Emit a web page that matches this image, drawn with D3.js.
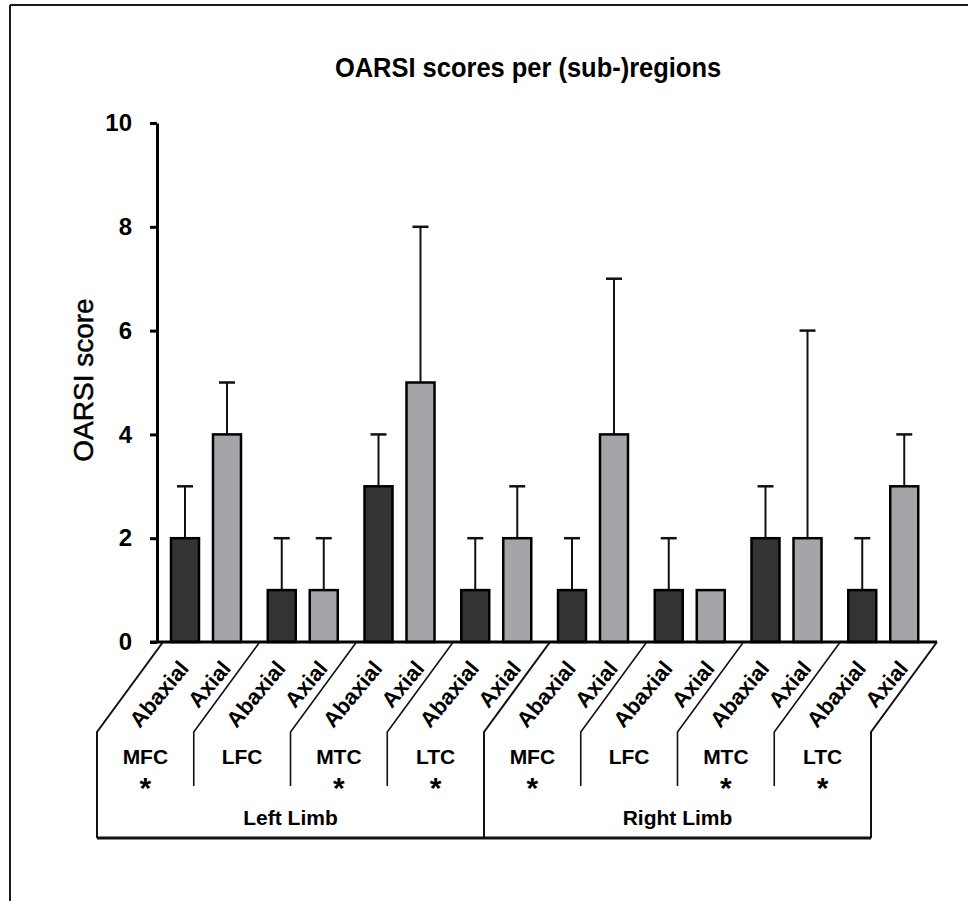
<!DOCTYPE html>
<html>
<head>
<meta charset="utf-8">
<script src="https://d3js.org/d3.v7.min.js"></script>
<style>
  body { margin: 0; background: #fff; }
  text { font-family: "Liberation Sans", Arial, sans-serif; fill: #000; }
</style>
</head>
<body>
<div id="chart"></div>
<script>
// chart data
var limbs = ["Left Limb", "Right Limb"];
var regions = ["MFC", "LFC", "MTC", "LTC"];
var sides = ["Abaxial", "Axial"];
// one value per limb/region group, left limb first
var abaxialScores = [2, 1, 3, 1, 1, 1, 2, 1];
var abaxialErrors = [1, 1, 1, 1, 1, 1, 1, 1];
var axialScores = [4, 1, 5, 2, 4, 1, 2, 3];
var axialErrors = [1, 1, 3, 1, 3, 0, 4, 1];
var significant = [true, false, true, true, true, false, true, true];
var yTicks = [0, 2, 4, 6, 8, 10];

// svg params
var svgWidth = 969;
var svgHeight = 901;
var chartTop = 123;
var chartBottom = 642;
var chartLeft = 163;
var chartRight = 937;
var axisX = 157;
var slant = 66;        // horizontal shift of the category separators
var level1Y = 732;     // where separators turn vertical
var level2Y = 786;     // end of the region separators
var boxBottom = 838;   // bottom of the limb boxes

var darkFill = "#333333";
var lightFill = "#a4a4a9";

var svg = d3.select("#chart")
    .append("svg")
    .attr("width", svgWidth)
    .attr("height", svgHeight);

// frame lines (top and left)
svg.append("line")
    .attr("x1", 10).attr("y1", 5).attr("x2", 968).attr("y2", 5)
    .attr("stroke", "#1a1a1a").attr("stroke-width", 2);
svg.append("line")
    .attr("x1", 10).attr("y1", 5).attr("x2", 10).attr("y2", svgHeight)
    .attr("stroke", "#1a1a1a").attr("stroke-width", 2);

// build group table
var groups = [];
limbs.forEach(function(limb, li) {
    regions.forEach(function(region, ri) {
        var i = li * regions.length + ri;
        groups.push({
            id: limb + " " + region,
            limb: limb,
            region: region,
            star: significant[i],
            bars: [
                { side: sides[0], value: abaxialScores[i], err: abaxialErrors[i], fill: darkFill },
                { side: sides[1], value: axialScores[i], err: axialErrors[i], fill: lightFill }
            ]
        });
    });
});

// scales
var xScale = d3.scaleBand()
    .domain(groups.map(d => d.id))
    .range([chartLeft, chartRight])
    .padding(0);
var step = xScale.step();
var xInner = d3.scaleBand()
    .domain(sides)
    .range([8, 78])
    .paddingInner(1 / 3)
    .paddingOuter(0);
var yScale = d3.scaleLinear()
    .domain([0, 10])
    .range([chartBottom, chartTop]);

// title (slightly condensed look)
svg.append("text")
    .attr("transform", "translate(528, 77) scale(0.91, 1)")
    .attr("text-anchor", "middle")
    .attr("font-size", "28px")
    .attr("font-weight", "bold")
    .text("OARSI scores per (sub-)regions");

// y axis title
svg.append("text")
    .attr("transform", "translate(93, 380) rotate(-90)")
    .attr("text-anchor", "middle")
    .attr("font-size", "28px")
    .attr("stroke", "#000")
    .attr("stroke-width", 0.5)
    .text("OARSI score");

// bars and error bars
var groupSel = svg.selectAll(".group")
    .data(groups)
    .enter()
    .append("g")
    .attr("class", "group")
    .attr("transform", d => `translate(${xScale(d.id)}, 0)`);

var barSel = groupSel.selectAll(".bar")
    .data(d => d.bars)
    .enter()
    .append("g")
    .attr("class", "bar");

barSel.filter(d => d.err > 0)
    .append("line")
    .attr("x1", d => xInner(d.side) + xInner.bandwidth() / 2)
    .attr("x2", d => xInner(d.side) + xInner.bandwidth() / 2)
    .attr("y1", d => yScale(d.value))
    .attr("y2", d => yScale(d.value + d.err))
    .attr("stroke", "#111")
    .attr("stroke-width", 2);

barSel.filter(d => d.err > 0)
    .append("line")
    .attr("x1", d => xInner(d.side) + xInner.bandwidth() / 2 - 8)
    .attr("x2", d => xInner(d.side) + xInner.bandwidth() / 2 + 8)
    .attr("y1", d => yScale(d.value + d.err))
    .attr("y2", d => yScale(d.value + d.err))
    .attr("stroke", "#111")
    .attr("stroke-width", 2.5);

barSel.append("rect")
    .attr("x", d => xInner(d.side))
    .attr("y", d => yScale(d.value))
    .attr("width", xInner.bandwidth())
    .attr("height", d => yScale(0) - yScale(d.value))
    .attr("fill", d => d.fill)
    .attr("stroke", "#000")
    .attr("stroke-width", 2.5);

// rotated side labels
barSel.append("text")
    .attr("transform", d => `translate(${xInner(d.side) + xInner.bandwidth() / 2 + 5}, 669) rotate(-50)`)
    .attr("text-anchor", "end")
    .attr("font-size", "22px")
    .attr("font-weight", "bold")
    .text(d => d.side);

// y axis
var leftAxis = d3.axisLeft(yScale)
    .tickValues(yTicks)
    .tickSize(7)
    .tickSizeOuter(0)
    .tickPadding(18)
    .tickFormat(d3.format("d"));

var yAxisG = svg.append("g")
    .attr("transform", `translate(${axisX}, 0)`)
    .call(leftAxis);
yAxisG.select(".domain").attr("stroke", "#000").attr("stroke-width", 3);
yAxisG.selectAll(".tick line").attr("stroke", "#000").attr("stroke-width", 3);
yAxisG.selectAll(".tick text")
    .attr("font-size", "24px")
    .attr("font-weight", "bold")
    .attr("font-family", "Liberation Sans, Arial, sans-serif")
    .attr("fill", "#000");

// baseline
svg.append("line")
    .attr("x1", axisX - 7)
    .attr("x2", chartRight)
    .attr("y1", yScale(0))
    .attr("y2", yScale(0))
    .attr("stroke", "#000")
    .attr("stroke-width", 3);

// category separators
var bounds = groups.map(d => xScale(d.id)).concat([chartRight]);
bounds.forEach(function(b, i) {
    var limbEdge = i % regions.length === 0;
    svg.append("path")
        .attr("d", `M${b},${yScale(0)} L${b - slant},${level1Y} L${b - slant},${limbEdge ? boxBottom : level2Y}`)
        .attr("fill", "none")
        .attr("stroke", "#111")
        .attr("stroke-width", limbEdge ? 2 : 1.6);
});

// bottom of limb boxes
svg.append("line")
    .attr("x1", chartLeft - slant)
    .attr("x2", chartRight - slant)
    .attr("y1", boxBottom)
    .attr("y2", boxBottom)
    .attr("stroke", "#111")
    .attr("stroke-width", 3);

// region labels and significance stars
groupSel.append("text")
    .attr("x", step / 2 - slant)
    .attr("y", 764)
    .attr("text-anchor", "middle")
    .attr("font-size", "21px")
    .attr("font-weight", "bold")
    .text(d => d.region);

groupSel.filter(d => d.star)
    .append("text")
    .attr("x", step / 2 - slant)
    .attr("y", 798)
    .attr("text-anchor", "middle")
    .attr("font-size", "30px")
    .attr("font-weight", "bold")
    .text("*");

// limb labels
limbs.forEach(function(limb, li) {
    var x0 = bounds[li * regions.length] - slant;
    var x1 = bounds[(li + 1) * regions.length] - slant;
    svg.append("text")
        .attr("x", (x0 + x1) / 2)
        .attr("y", 825)
        .attr("text-anchor", "middle")
        .attr("font-size", "21px")
        .attr("font-weight", "bold")
        .text(limb);
});
</script>
</body>
</html>
